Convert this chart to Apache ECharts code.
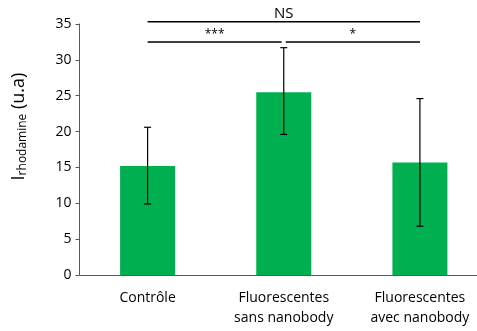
<!DOCTYPE html>
<html><head><meta charset="utf-8">
<script src="https://cdn.jsdelivr.net/npm/echarts@6/dist/echarts.min.js"></script>
<style>html,body{margin:0;padding:0;background:#fff;overflow:hidden}#c{width:488px;height:331px}</style>
</head><body><div id="c"></div>
<script>
const categories = ['Contrôle', 'Fluorescentes\nsans nanobody', 'Fluorescentes\navec nanobody'];
const means = [15.2, 25.5, 15.7];
const errLow = [9.9, 19.6, 6.8];
const errHigh = [20.6, 31.7, 24.6];
const yTicks = [0, 5, 10, 15, 20, 25, 30, 35];
const sigBrackets = [
  {from: 0, to: 2, y: 35.3, text: 'NS', size: 15},
  {from: 0, to: 0.985, y: 32.5, text: '***', size: 12},
  {from: 1.015, to: 2, y: 32.5, text: '*', size: 12}
];

const font = 'Open Sans';
const chart = echarts.init(document.getElementById('c'));
chart.setOption({
  animation: false,
  grid: {left: 79.5, right: 0, top: 24, bottom: 56, containLabel: false},
  xAxis: {
    type: 'category', data: categories,
    axisLine: {lineStyle: {color: '#595959', width: 1}},
    axisTick: {show: false},
    axisLabel: {color: '#000', fontSize: 14, fontFamily: font, lineHeight: 20, margin: 13, interval: 0}
  },
  yAxis: {
    type: 'value', min: 0, max: 35, interval: 5,
    axisLine: {show: true, lineStyle: {color: '#595959', width: 1}},
    axisTick: {show: true, inside: false, length: 4, lineStyle: {color: '#595959'}},
    splitLine: {show: false},
    axisLabel: {color: '#000', fontSize: 14, fontFamily: font, margin: 8,
      formatter: v => yTicks.includes(v) ? String(v) : ''},
    name: '{i|I}{s|rhodamine}{i| (u.a)}',
    nameLocation: 'middle', nameGap: 51, nameRotate: 90,
    nameTextStyle: {padding: [0, 0, 0, 46], rich: {
      i: {fontSize: 18, fontFamily: font, color: '#000'},
      s: {fontSize: 12, fontFamily: font, color: '#000', verticalAlign: 'bottom', padding: [7, 0, 0, 0]}
    }}
  },
  series: [
    {
      type: 'bar', data: means, barWidth: 55,
      itemStyle: {color: '#00B050'}
    },
    {
      type: 'custom',
      data: means.map((m, i) => [i, errLow[i], errHigh[i]]),
      renderItem: function (params, api) {
        const lo = api.coord([api.value(0), api.value(1)]);
        const hi = api.coord([api.value(0), api.value(2)]);
        const w = 3.5;
        const st = {stroke: '#000', lineWidth: 1.2};
        return {type: 'group', children: [
          {type: 'line', shape: {x1: lo[0], y1: lo[1], x2: hi[0], y2: hi[1]}, style: st},
          {type: 'line', shape: {x1: lo[0] - w, y1: lo[1], x2: lo[0] + w, y2: lo[1]}, style: st},
          {type: 'line', shape: {x1: hi[0] - w, y1: hi[1], x2: hi[0] + w, y2: hi[1]}, style: st}
        ]};
      },
      z: 5
    }
  ]
});
// significance brackets placed through the chart's own scales
const xAt = v => {
  const i = Math.floor(v), f = v - i;
  const a = chart.convertToPixel({xAxisIndex: 0}, i);
  if (f === 0) return a;
  const b = chart.convertToPixel({xAxisIndex: 0}, i + 1);
  return a + (b - a) * f;
};
const g = [];
sigBrackets.forEach(s => {
  const x1 = xAt(s.from), x2 = xAt(s.to);
  const y = chart.convertToPixel({yAxisIndex: 0}, s.y);
  g.push({type: 'line', shape: {x1, y1: y, x2, y2: y}, style: {stroke: '#000', lineWidth: 1.5}, z: 10});
  g.push({type: 'text', x: (x1 + x2) / 2, y: y - 1, style: {text: s.text, fill: '#000', font: s.size + 'px "' + font + '"', textAlign: 'center', textVerticalAlign: 'bottom'}, z: 10});
});
chart.setOption({graphic: g});
</script></body></html>
